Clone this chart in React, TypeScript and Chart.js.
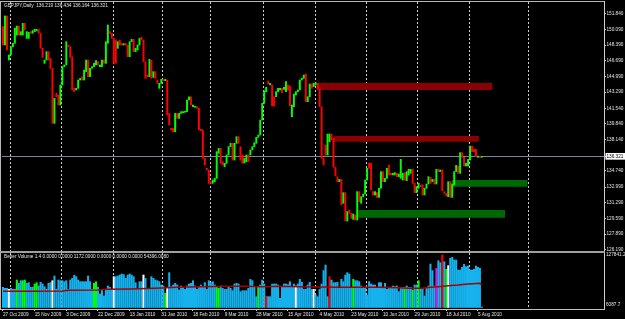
import React, { useEffect, useRef } from 'react';
import { Chart, registerables } from 'chart.js';

Chart.register(...registerables);

// ---------- DATA ----------
const SYMBOL_TITLE = 'GBPJPY,Daily';
const LAST_OHLC = [136.219, 136.434, 136.164, 136.321];
const CURRENT_PRICE = 136.321;

const opens = [
  150.39, 148.40, 151.55, 146.77, 147.32, 148.22, 148.58, 149.48, 150.46, 149.48,
  149.48, 150.75, 149.12, 149.12, 149.85, 149.67, 149.85, 149.92, 150.10, 149.67,
  148.04, 146.41, 146.77, 147.68, 146.95, 145.87, 139.90, 143.16, 142.97, 141.89,
  144.06, 146.05, 146.23, 148.40, 148.22, 147.13, 143.70, 143.52, 143.70, 144.60,
  144.96, 144.60, 145.51, 146.77, 144.96, 145.87, 146.05, 146.23, 146.59, 146.05,
  146.05, 146.77, 146.41, 148.58, 149.85, 149.67, 149.12, 148.94, 148.04, 148.94,
  148.58, 148.40, 148.58, 148.40, 147.13, 148.76, 149.01, 147.68, 147.86, 148.40,
  149.23, 148.94, 146.59, 145.14, 144.96, 146.77, 144.89, 145.51, 144.60, 143.70,
  144.24, 144.67, 144.53, 144.60, 140.98, 139.36, 139.36, 138.99, 140.98, 140.44,
  140.98, 141.06, 141.10, 141.17, 142.43, 142.79, 141.71, 141.64, 141.71, 141.53,
  139.25, 139.18, 136.10, 135.02, 134.84, 133.57, 133.39, 133.57, 133.93, 136.65,
  137.19, 135.74, 135.20, 135.56, 136.47, 137.37, 137.73, 135.92, 137.73, 138.45,
  137.37, 136.47, 135.60, 135.74, 136.47, 136.47, 137.01, 137.37, 137.73, 138.38,
  138.63, 140.26, 142.07, 143.34, 144.49, 144.06, 144.06, 142.79, 142.79, 143.34,
  143.52, 143.70, 143.59, 143.34, 144.06, 143.95, 140.62, 141.71, 142.97, 143.34,
  143.52, 144.60, 144.78, 145.25, 142.25, 142.79, 144.17, 143.88, 144.06, 144.24,
  143.59, 141.71, 136.10, 137.55, 136.46, 137.91, 138.74, 138.27, 135.13, 134.11,
  133.57, 133.82, 131.22, 132.38, 129.30, 130.50, 130.14, 129.48, 129.95, 129.41,
  132.49, 131.22, 131.94, 132.23, 133.75, 135.56, 135.56, 132.49, 132.12, 132.38,
  131.87, 132.85, 134.66, 133.57, 133.93, 135.38, 134.48, 134.30, 134.30, 134.48,
  134.12, 133.93, 133.75, 134.55, 133.68, 134.30, 134.48, 134.91, 133.39, 132.38,
  132.85, 133.21, 133.21, 132.12, 132.85, 133.32, 134.04, 133.57, 133.82, 133.32,
  134.91, 134.66, 134.84, 132.49, 132.31, 131.94, 133.57, 131.87, 133.21, 134.66,
  135.27, 134.48, 136.72, 136.21, 135.27, 135.27, 135.92, 137.44, 137.08, 137.08,
  136.21, 136.35, 136.219,
];

const closes = [
  148.40, 151.55, 147.86, 147.32, 148.22, 148.58, 150.21, 150.46, 149.48, 149.85,
  150.75, 150.03, 149.85, 149.77, 149.67, 149.96, 150.10, 150.10, 149.67, 148.04,
  147.06, 146.77, 147.68, 146.77, 145.87, 139.90, 142.61, 142.79, 141.89, 144.06,
  146.05, 146.23, 148.76, 148.22, 147.06, 143.52, 143.34, 143.70, 144.60, 144.78,
  144.60, 145.69, 146.77, 144.96, 145.87, 146.05, 146.41, 146.70, 146.23, 146.23,
  146.77, 146.41, 148.76, 150.57, 149.67, 149.12, 146.41, 146.41, 148.76, 148.40,
  148.40, 148.55, 148.40, 147.13, 148.76, 149.01, 147.68, 148.04, 148.40, 149.12,
  148.94, 146.59, 144.78, 144.96, 146.84, 144.78, 145.51, 144.78, 144.24, 144.24,
  144.67, 144.53, 144.67, 140.80, 139.72, 139.18, 138.99, 140.98, 140.44, 140.98,
  141.17, 141.17, 141.17, 142.43, 142.79, 141.89, 141.89, 141.71, 141.53, 139.18,
  139.10, 136.10, 135.38, 134.84, 133.39, 133.39, 133.75, 133.93, 136.83, 137.19,
  135.56, 135.38, 135.56, 136.47, 137.37, 137.73, 135.92, 137.73, 138.45, 137.73,
  135.92, 135.56, 136.10, 136.47, 135.74, 137.01, 137.37, 137.80, 138.38, 138.63,
  140.26, 142.07, 143.45, 143.81, 144.17, 144.24, 141.78, 141.78, 143.34, 143.70,
  143.70, 143.23, 143.81, 144.42, 143.52, 141.78, 141.89, 143.08, 143.34, 143.52,
  144.60, 144.78, 145.14, 142.25, 142.79, 144.17, 143.70, 144.24, 144.31, 143.59,
  141.71, 136.10, 135.38, 136.46, 138.74, 138.74, 138.09, 135.13, 134.19, 133.57,
  133.82, 131.04, 132.38, 129.30, 130.32, 130.14, 129.59, 130.06, 129.41, 132.49,
  131.40, 131.94, 132.23, 133.75, 135.02, 135.02, 132.67, 132.12, 132.49, 131.87,
  132.85, 134.66, 133.57, 133.93, 135.02, 134.30, 134.30, 134.48, 134.55, 134.12,
  134.40, 135.99, 134.48, 133.75, 134.66, 134.91, 134.91, 133.39, 132.38, 133.03,
  133.39, 133.03, 132.12, 132.85, 133.32, 134.11, 133.39, 133.82, 133.32, 134.91,
  134.66, 134.84, 132.60, 132.31, 132.02, 133.57, 131.87, 133.32, 134.66, 135.34,
  134.48, 136.72, 136.21, 135.27, 135.56, 135.99, 137.44, 136.82, 136.82, 136.28,
  136.35, 136.21, 136.321,
];

const volumes = [
  49100, 46700, 46700, 44200, 46700, 44200, 44200, 67000, 58800, 65300,
  65300, 67000, 58800, 60500, 49100, 49100, 57200, 60500, 52400, 61300,
  57200, 50700, 44200, 58800, 60500, 65300, 76700, 44200, 67000, 65300,
  65300, 62900, 65300, 44200, 67000, 71000, 78300, 75100, 67000, 62900,
  62900, 62900, 62900, 76700, 62900, 44200, 58800, 62900, 49100, 32900,
  44200, 28000, 44200, 52400, 49100, 44200, 75100, 75100, 76700, 79100,
  81600, 80000, 71000, 79100, 81600, 79100, 75100, 60500, 44200, 62900,
  62900, 79100, 71000, 44200, 44200, 75100, 71000, 67000, 65300, 62900,
  54800, 52400, 34500, 49100, 84800, 50700, 54800, 58800, 54800, 42600,
  52400, 49100, 44200, 52400, 57200, 58800, 65300, 52400, 44200, 50700,
  54800, 50700, 60500, 44200, 65300, 60500, 62900, 54800, 49100, 46700,
  52400, 46700, 44200, 44200, 49100, 46700, 41000, 57200, 58800, 57200,
  38600, 41000, 41000, 41000, 46700, 68600, 65300, 50700, 26400, 49100,
  54800, 67000, 57200, 28000, 26400, 26400, 57200, 57200, 57200, 54800,
  22300, 49100, 57200, 57200, 55600, 62900, 49100, 57200, 52400, 57200,
  68600, 61300, 44200, 44200, 54800, 61300, 44200, 44200, 30400, 26400,
  44200, 57200, 89700, 103500, 26400, 75100, 67000, 60500, 60500, 61300,
  49100, 68600, 62900, 79100, 84800, 81600, 49100, 68600, 65300, 65300,
  62900, 52400, 49100, 50000, 30400, 62900, 57200, 54800, 54800, 46700,
  60500, 60500, 49100, 58800, 44200, 46700, 49100, 52400, 50700, 52400,
  38600, 49100, 49100, 49100, 52400, 49100, 49100, 42600, 54800, 54800,
  65300, 46700, 46700, 28000, 49100, 52400, 105900, 89700, 52400, 95400,
  114000, 109200, 127841.2, 111600, 92900, 101900, 119700, 122200, 115700, 115700,
  91300, 91300, 97800, 105100, 99400, 101100, 91300, 91300, 92900, 101100,
  97800, 95400, 1172,
];

// Better Volume bar classes: N normal, G churn, W climax down, R climax up, M climax churn, Y low volume
const volumeTypes = (
  'NNNWNNNGNNGGNNNNGGNNNNNNNWNNNNNNNNNNNNNNNNNNNNGGNNNNNNNNWNNNN' +
  'NNNNNNNNNNWNNNNNNNNNNGWNNNNNNNNNNNNNNNNNNNNNNNNGGNNNNNNNNNNNNNN' +
  'NNNNNGNNNRNNNNNNNNNNNNNNWNNNNNNNNWNNNNNNNRNNNNNNNNNNNGNNNNNNNN' +
  'NNNNNNNNNNNNNNNNNGNNNGNNGNNNNNNNNMNNRNGWNNNNNNNNNNNNNNNNNNNY'
).split('');

const maBars = [0, 15, 30, 33, 48, 52, 65, 80, 88, 100, 115, 124, 130, 140, 150, 160, 170, 180, 190, 200, 205, 212, 216, 220, 225, 230, 235, 241, 242];
const maValues = [39400, 39400, 40200, 41800, 42600, 44200, 45100, 47500, 49100, 50700, 51500, 51500, 50700, 51500, 50700, 49900, 49100, 49100, 49100, 48300, 46700, 46700, 49100, 50700, 53200, 54800, 57200, 58800, 54396];

const volumeHeaderValues = [0, 0, 1172, 0, 0, 0, 54396.008];

const dateLabels = [
  '27 Oct 2009', '15 Nov 2009', '3 Dec 2009', '22 Dec 2009', '13 Jan 2010', '31 Jan 2010',
  '18 Feb 2010', '9 Mar 2010', '28 Mar 2010', '15 Apr 2010', '4 May 2010', '23 May 2010',
  '10 Jun 2010', '29 Jun 2010', '18 Jul 2010', '5 Aug 2010',
];
const dateLabelBars = [0, 16, 32, 48, 64, 80, 96, 112, 128, 144, 160, 176, 192, 208, 224, 240];

const gridBars = [3.7, 29.8, 55.7, 80.7, 104.8, 131.5, 157.8, 183.6, 209.7, 235.6, 265.4];

const priceTicks = [151.84, 150.09, 148.39, 146.69, 144.99, 143.29, 141.54, 139.84, 138.14, CURRENT_PRICE, 134.74, 132.99, 131.29, 129.59, 127.89, 126.19];
const volumeTicks = [6087.7, 127841.2];

// horizontal zones drawn on the chart
const zoneStart = [158.8, 166.9, 226.7, 179.5];
const zoneEnd = [247.4, 240.5, 265.1, 253.7];
const zoneTop = [144.28, 138.53, 133.75, 130.50];
const zoneBottom = [143.52, 137.91, 133.03, 129.66];
const zoneKind = ['resistance', 'resistance', 'support', 'support'];

// axis ranges
const X_MIN = -0.5;
const X_MAX = 303.7;
const PRICE_MIN = 126.049;
const PRICE_MAX = 153.066;
const VOL_MIN = -3652.6;
const VOL_MAX = 132711.3;

// ---------- STYLE ----------
const FONT = 'Liberation Sans';
const FS = 4.7;
const TEXT = '#e4e4e4';
const UP = '#00ff00';
const DOWN = '#ff0000';
const VOL_COLORS: Record<string, string> = {
  N: '#16b2ee', G: '#00ff00', W: '#ffffff', R: '#ff0000', M: '#ff00ff', Y: '#ffff00',
};
const ZONE_COLORS: Record<string, string> = { resistance: '#8b0000', support: '#006800' };
const GRID = '#cfcfcf';

function headerPlugin(id: string, getText: () => string, y: number) {
  return {
    id,
    afterDraw(chart: any) {
      const ctx = chart.ctx;
      ctx.save();
      ctx.font = `${FS}px ${FONT}`;
      ctx.fillStyle = TEXT;
      ctx.textBaseline = 'middle';
      ctx.textAlign = 'left';
      ctx.fillText(getText(), 4, y);
      ctx.restore();
    },
  };
}

const zeroPad = (s: any) => {
  s.paddingTop = 0; s.paddingBottom = 0; s.paddingLeft = 0; s.paddingRight = 0;
};

export default function App() {
  const mainRef = useRef<HTMLCanvasElement>(null);
  const volRef = useRef<HTMLCanvasElement>(null);

  useEffect(() => {
    document.body.style.margin = '0';
    document.body.style.background = '#000';

    const zoneSets: any[] = [];
    zoneStart.forEach((s, k) => {
      zoneSets.push({
        type: 'line',
        data: [{ x: s, y: zoneTop[k] }, { x: zoneEnd[k], y: zoneTop[k] }],
        borderColor: 'transparent', borderWidth: 0, pointRadius: 0, fill: false, order: 10,
        xAxisID: 'x', yAxisID: 'y',
      });
      zoneSets.push({
        type: 'line',
        data: [{ x: s, y: zoneBottom[k] }, { x: zoneEnd[k], y: zoneBottom[k] }],
        borderColor: 'transparent', borderWidth: 0, pointRadius: 0,
        fill: '-1', backgroundColor: ZONE_COLORS[zoneKind[k]], order: 10,
        xAxisID: 'x', yAxisID: 'y',
      });
    });

    const main = new Chart(mainRef.current!, {
      type: 'bar',
      data: {
        datasets: [
          ...zoneSets,
          {
            type: 'bar',
            data: opens.map((o, i) => ({ x: i, y: [o, closes[i]] })) as any,
            backgroundColor: opens.map((o, i) => (closes[i] >= o ? UP : DOWN)),
            barThickness: 1.3,
            minBarLength: 1,
            borderWidth: 0,
            order: 1,
            xAxisID: 'x',
            yAxisID: 'y',
          },
        ],
      },
      options: {
        responsive: false,
        maintainAspectRatio: false,
        devicePixelRatio: 1,
        animation: false,
        events: [],
        layout: { padding: { left: 2, right: 0, top: 2, bottom: 1 } },
        plugins: { legend: { display: false }, tooltip: { enabled: false } },
        scales: {
          x: {
            type: 'linear', min: X_MIN, max: X_MAX, offset: false,
            afterBuildTicks: (s: any) => { s.ticks = gridBars.map((v) => ({ value: v })); },
            afterFit: (s: any) => { s.height = 0; zeroPad(s); },
            ticks: { display: false },
            grid: { color: GRID, lineWidth: 1, drawTicks: false, offset: false },
            border: { display: false, dash: [2, 2] },
          },
          y: {
            type: 'linear', position: 'right', min: PRICE_MIN, max: PRICE_MAX,
            afterBuildTicks: (s: any) => { s.ticks = priceTicks.map((v) => ({ value: v })); },
            afterFit: (s: any) => { s.width = 21; zeroPad(s); },
            ticks: {
              callback: (v: any) => Number(v).toFixed(3),
              font: { family: FONT, size: FS },
              color: (c: any) => (c.tick && c.tick.value === CURRENT_PRICE ? '#000000' : TEXT),
              padding: 0.5,
              showLabelBackdrop: (c: any) => !!(c.tick && c.tick.value === CURRENT_PRICE),
              backdropColor: '#ffffff',
              backdropPadding: { left: 1, right: 4, top: 0.5, bottom: 0.5 },
              autoSkip: false,
            },
            grid: {
              drawOnChartArea: true,
              color: (c: any) => (c.tick && c.tick.value === CURRENT_PRICE ? '#7a8896' : 'transparent'),
              tickColor: '#c0c0c0',
              tickLength: 2,
            },
            border: { display: false },
          },
        },
      },
      plugins: [
        headerPlugin('mainHeader', () => `${SYMBOL_TITLE}  ${LAST_OHLC.map((v) => v.toFixed(3)).join(' ')}`, 5.5),
      ],
    } as any);

    const vol = new Chart(volRef.current!, {
      type: 'bar',
      data: {
        datasets: [
          {
            type: 'line',
            data: maBars.map((b, i) => ({ x: b, y: maValues[i] })),
            borderColor: '#a80000',
            borderWidth: 1.5,
            pointRadius: 0,
            tension: 0,
            fill: false,
            order: 0,
            xAxisID: 'x',
            yAxisID: 'y',
          },
          {
            type: 'bar',
            data: volumes.map((v, i) => ({ x: i, y: v })),
            backgroundColor: volumeTypes.map((t) => VOL_COLORS[t] || VOL_COLORS.N),
            barThickness: 1.4,
            borderWidth: 0,
            order: 1,
            xAxisID: 'x',
            yAxisID: 'y',
          },
        ],
      },
      options: {
        responsive: false,
        maintainAspectRatio: false,
        devicePixelRatio: 1,
        animation: false,
        events: [],
        layout: { padding: { left: 2, right: 0, top: 1, bottom: 0 } },
        plugins: { legend: { display: false }, tooltip: { enabled: false } },
        scales: {
          x: {
            type: 'linear', position: 'bottom', min: X_MIN, max: X_MAX, offset: false,
            afterBuildTicks: (s: any) => { s.ticks = dateLabelBars.map((v) => ({ value: v })); },
            afterFit: (s: any) => { s.height = 10; zeroPad(s); },
            ticks: {
              callback: (_v: any, i: number) => dateLabels[i],
              font: { family: FONT, size: FS },
              color: TEXT,
              align: 'start',
              maxRotation: 0,
              minRotation: 0,
              autoSkip: false,
              padding: 0.5,
            },
            grid: { drawOnChartArea: false, drawTicks: true, tickLength: 2, tickColor: '#d0d0d0', offset: false },
            border: { display: false },
          },
          xg: {
            type: 'linear', position: 'bottom', min: X_MIN, max: X_MAX, offset: false,
            afterBuildTicks: (s: any) => { s.ticks = gridBars.map((v) => ({ value: v })); },
            afterFit: (s: any) => { s.height = 0; zeroPad(s); },
            ticks: { display: false },
            grid: { color: GRID, lineWidth: 1, drawTicks: false, offset: false },
            border: { display: false, dash: [2, 2] },
          },
          y: {
            type: 'linear', position: 'right', min: VOL_MIN, max: VOL_MAX,
            afterBuildTicks: (s: any) => { s.ticks = volumeTicks.map((v) => ({ value: v })); },
            afterFit: (s: any) => { s.width = 21; zeroPad(s); },
            ticks: {
              callback: (v: any) => Number(v).toFixed(1),
              font: { family: FONT, size: FS },
              color: TEXT,
              padding: 2,
              autoSkip: false,
            },
            grid: { drawOnChartArea: false, drawTicks: false },
            border: { display: false },
          },
        },
      },
      plugins: [
        headerPlugin('volHeader', () => `Better Volume 1.4 ${volumeHeaderValues.map((v) => v.toFixed(4)).join(' ')}`, 4.7),
      ],
    } as any);

    return () => {
      main.destroy();
      vol.destroy();
    };
  }, []);

  const line = (l: number, t: number, w: number, h: number, c: string) => (
    <div style={{ position: 'absolute', left: l, top: t, width: w, height: h, background: c, pointerEvents: 'none' }} />
  );

  return (
    <div style={{ position: 'fixed', left: 0, top: 0, width: 625, height: 319, background: '#000', overflow: 'hidden' }}>
      <canvas ref={mainRef} width={625} height={252} style={{ position: 'absolute', left: 0, top: 0, display: 'block' }} />
      <canvas ref={volRef} width={625} height={67} style={{ position: 'absolute', left: 0, top: 252, display: 'block' }} />
      {line(0, 1, 605, 1, '#b8b8b8')}
      {line(0, 1, 1, 309, '#b8b8b8')}
      {line(604, 1, 1, 309, '#d0d0d0')}
      {line(0, 251, 605, 2, '#a0a0a0')}
      {line(0, 309, 605, 1, '#c0c0c0')}
    </div>
  );
}
